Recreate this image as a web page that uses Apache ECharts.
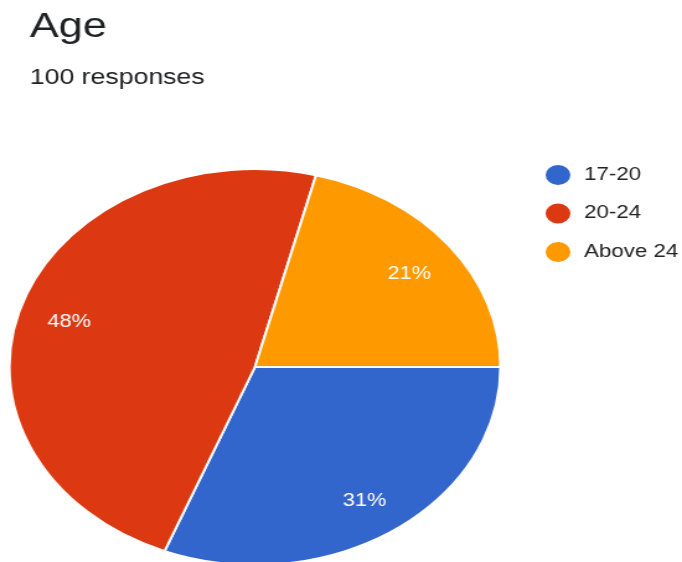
<!DOCTYPE html>
<html>
<head>
<meta charset="utf-8">
<script src="https://cdn.jsdelivr.net/npm/echarts@6/dist/echarts.min.js"></script>
<style>
  html, body { margin: 0; padding: 0; background: #fff; overflow: hidden; }
  #wrap { width: 682px; height: 562px; overflow: hidden; }
  /* chart is laid out on a narrower canvas and widened to the final size */
  #chart { width: 550px; height: 562px; transform: scaleX(1.24); transform-origin: 0 0; }
</style>
</head>
<body>
<div id="wrap"><div id="chart"></div></div>
<script>
// Age distribution of survey respondents
const categories = ['17-20', '20-24', 'Above 24'];
const shares = [31, 48, 21];
const sliceColors = ['#3366cc', '#dc3912', '#ff9900'];
const titleText = 'Age';
const subtitleText = '100 responses';

const pieData = categories.map((name, i) => ({
  name: name,
  value: shares[i],
  itemStyle: { color: sliceColors[i] }
}));

const font = '"Liberation Sans", Arial, sans-serif';
const R = 198;
const center = [205.6, 367];

const chart = echarts.init(document.getElementById('chart'), null, { renderer: 'canvas' });
chart.setOption({
  animation: false,
  backgroundColor: '#fff',
  title: [
    { text: titleText, left: 19, top: 5, padding: 5,
      textStyle: { fontFamily: font, fontSize: 35, fontWeight: 'normal', color: '#202124' } },
    { text: subtitleText, left: 19, top: 62, padding: 5,
      textStyle: { fontFamily: font, fontSize: 21.5, fontWeight: 'normal', color: '#202124' } }
  ],
  legend: {
    orient: 'vertical',
    left: 438,
    top: 163,
    padding: 0,
    icon: 'circle',
    itemWidth: 22,
    itemHeight: 22,
    itemGap: 14.5,
    data: categories,
    textStyle: { fontFamily: font, fontSize: 18, color: '#222', padding: [0, 0, 0, 5] }
  },
  series: [
    {
      type: 'pie',
      center: center,
      radius: [0, R],
      startAngle: 0,
      clockwise: true,
      silent: true,
      label: { show: false },
      labelLine: { show: false },
      itemStyle: { borderColor: '#fff', borderWidth: 2 },
      data: pieData
    },
    {
      // transparent ring that carries the percentage labels further out
      type: 'pie',
      center: center,
      radius: [R * 0.56, R],
      startAngle: 0,
      clockwise: true,
      silent: true,
      itemStyle: { color: 'rgba(0,0,0,0)', borderWidth: 0 },
      label: {
        show: true,
        position: 'inside',
        formatter: '{c}%',
        color: '#fff',
        fontFamily: font,
        fontSize: 17.5,
        offset: [0, 4]
      },
      labelLine: { show: false },
      data: categories.map((name, i) => ({ name: name, value: shares[i] }))
    }
  ]
});
</script>
</body>
</html>
